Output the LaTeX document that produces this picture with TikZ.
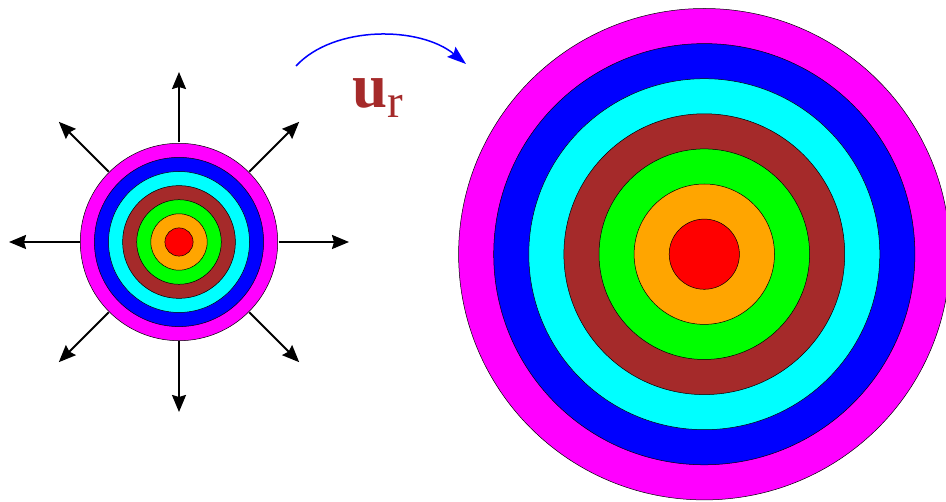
\documentclass[tikz,border=0pt]{standalone}
\usepackage{fontspec}
\setmainfont{Liberation Serif}
\usetikzlibrary{arrows.meta,calc}
\definecolor{cMag}{RGB}{255,0,255}
\definecolor{cBlue}{RGB}{0,0,255}
\definecolor{cCyan}{RGB}{0,255,255}
\definecolor{cBrown}{RGB}{165,42,42}
\definecolor{cGreen}{RGB}{0,255,0}
\definecolor{cOrange}{RGB}{255,165,0}
\definecolor{cRed}{RGB}{255,0,0}
\tikzset{
  ring/.style={draw=black, line width=0.5pt},
  radial/.style={line width=2.1pt, -{Stealth[length=17pt,width=14pt,inset=2pt]}},
  morph/.style={draw=cBlue, line width=1.5pt, -{Stealth[length=19pt,width=13pt,inset=3pt]}}
}
\begin{document}
\begin{tikzpicture}[x=1pt,y=-1pt]
\useasboundingbox (0,0) rectangle (946,502);
% left small target
\coordinate (L) at (179,242);
\foreach \k/\c in {7/cMag,6/cBlue,5/cCyan,4/cBrown,3/cGreen,2/cOrange,1/cRed}{
  \fill[\c, ring] (L) circle[radius=14.1*\k];
}
% radial arrows
\foreach \a in {0,45,...,315}{
  \draw[radial] ($(L)+(\a:99.5)$) -- ($(L)+(\a:170)$);
}
% right large target
\coordinate (R) at (704.3,254.2);
\foreach \k/\c in {7/cMag,6/cBlue,5/cCyan,4/cBrown,3/cGreen,2/cOrange,1/cRed}{
  \fill[\c, ring] (R) circle[radius=35.1*\k];
}
% curved arrow
\coordinate (s) at (296,66);
\coordinate (e) at (466,64);
\draw[morph] (s) .. controls (334,25) and (420,26) .. (e);
\node[anchor=base west, inner sep=0pt, text=cBrown] (ur) at (352,108)
  {\fontsize{63}{63}\selectfont\textbf{u}\raisebox{-10pt}{\fontsize{47}{47}\selectfont r}};
\end{tikzpicture}
\end{document}
